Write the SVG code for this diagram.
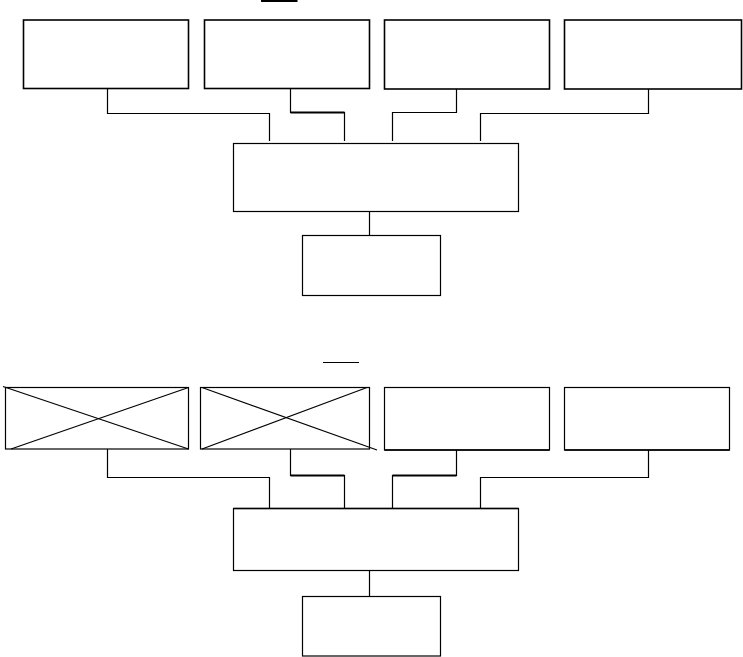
<svg xmlns="http://www.w3.org/2000/svg" width="743" height="657" viewBox="0 0 743 657">
<style>
rect{fill:#fff;stroke:#000;stroke-width:1.2}
.t rect{stroke-width:1.6}
.c path,.c line{fill:none;stroke:#000;stroke-width:1.2}
.c .h{stroke-width:1.8}
.x line{stroke:#000;stroke-width:1.2}
</style>
<rect x="0" y="0" width="743" height="657" style="stroke:none"/>
<line x1="261" y1="1" x2="297.5" y2="1" stroke="#000" stroke-width="2"/>
<line x1="323" y1="362.5" x2="359" y2="362.5" stroke="#000" stroke-width="1.2"/>
<g class="c" id="connectors">
<path d="M107.5 88.5V113.5H269.5V141"/>
<path d="M290.5 88.5V112.5H344.5V141"/>
<line class="h" x1="290.5" y1="112.5" x2="344.5" y2="112.5"/>
<path d="M456.5 88.5V112.5H392.5V141"/>
<path d="M648.5 88.5V113.5H480.5V141"/>
<path d="M369.5 209V235.5"/>
<path d="M107.5 449V477.5H269.5V508"/>
<path d="M290.5 449V475.5H344.5V508"/>
<line class="h" x1="290.5" y1="475.5" x2="344.5" y2="475.5"/>
<path d="M456.5 450V475.5H392.5V508"/>
<line class="h" x1="456.5" y1="475.5" x2="392.5" y2="475.5"/>
<path d="M648.5 450V477.5H480.5V508"/>
<path d="M369.5 570V596.5"/>
</g>
<g class="t" id="top1"><rect x="23.5" y="20" width="165" height="68.5"/></g>
<g class="t" id="top2"><rect x="204.5" y="20" width="165" height="68.5"/></g>
<g class="t" id="top3"><rect x="384.5" y="20" width="165" height="69"/></g>
<g class="t" id="top4"><rect x="564.5" y="20" width="177" height="69"/></g>
<g id="topCenter"><rect x="233.5" y="143.5" width="285" height="68"/></g>
<g id="topBottom"><rect x="302.5" y="235.5" width="138" height="60"/></g>
<g id="bot1" class="x"><rect x="5.5" y="387.5" width="183" height="61.5"/><line x1="3" y1="386.5" x2="188.5" y2="449"/><line x1="11" y1="449" x2="188.5" y2="387.5"/></g>
<g id="bot2" class="x"><rect x="200.5" y="387.5" width="169" height="61.5"/><line x1="202" y1="387.5" x2="377" y2="450"/><line x1="202" y1="449" x2="367" y2="387.5"/></g>
<g id="bot3"><rect x="384.5" y="387.5" width="165" height="62.5"/><line x1="384.5" y1="450" x2="549.5" y2="450" stroke="#000" stroke-width="1.6"/></g>
<g id="bot4"><rect x="564.5" y="387.5" width="165" height="62.5"/><line x1="564.5" y1="450" x2="729.5" y2="450" stroke="#000" stroke-width="1.6"/></g>
<g id="botCenter"><rect x="233.5" y="508.5" width="285" height="62"/><line x1="233.5" y1="508.5" x2="518.5" y2="508.5" stroke="#000" stroke-width="1.6"/></g>
<g id="botBottom"><rect x="302.5" y="596.5" width="138" height="59.5"/></g>
</svg>
